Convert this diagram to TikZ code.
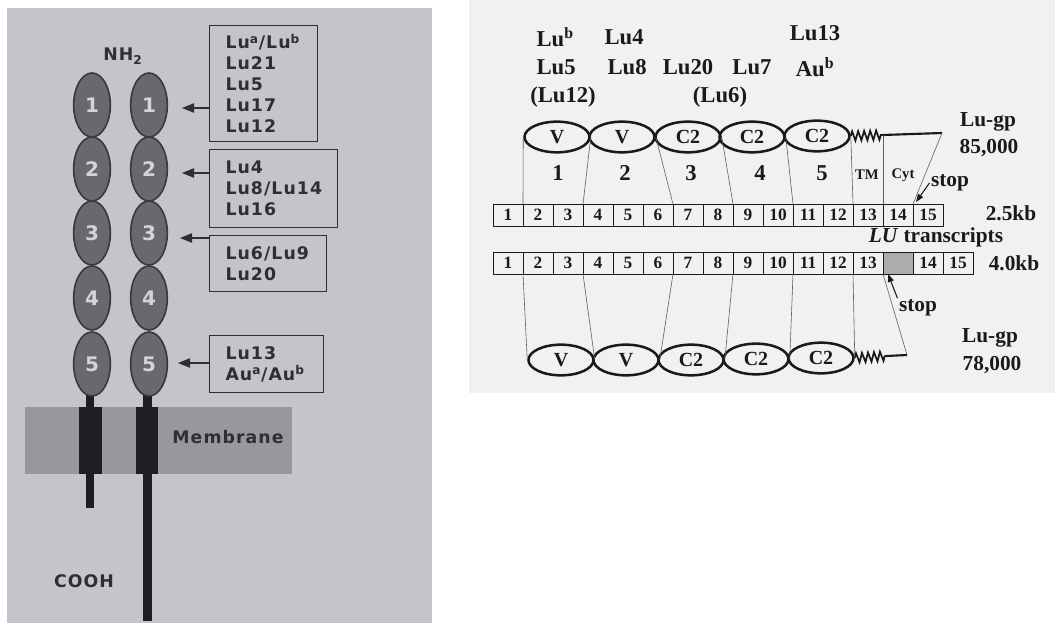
\documentclass[tikz,border=0pt]{standalone}
\usepackage{fontspec}
\setmainfont{Liberation Serif}
\newfontfamily\lfont{DejaVu Sans}[LetterSpace=6]
\usetikzlibrary{shapes.geometric, arrows.meta, positioning, calc, decorations.pathmorphing}
\definecolor{leftbg}{RGB}{197,196,202}
\definecolor{lobefill}{RGB}{106,104,110}
\definecolor{lobeline}{RGB}{58,56,62}
\definecolor{lobenum}{RGB}{212,212,216}
\definecolor{membr}{RGB}{152,151,157}
\definecolor{barcol}{RGB}{30,29,33}
\definecolor{ltext}{RGB}{48,46,52}
\definecolor{rightbg}{RGB}{241,241,243}
\definecolor{rtext}{RGB}{28,24,28}
\definecolor{connline}{RGB}{95,95,100}
\definecolor{stopfill}{RGB}{172,172,172}

\begin{document}
\begin{tikzpicture}[x=0.75pt, y=-0.75pt,
  lobe/.style={draw=lobeline, fill=lobefill, ellipse, line width=1.2pt, minimum width=27.5pt, minimum height=48pt, inner sep=0pt, text=lobenum, font=\lfont\bfseries\fontsize{15}{15}\selectfont},
  lbox/.style={draw=ltext, line width=0.8pt, anchor=north west, align=left, inner xsep=12pt, text=ltext, font=\lfont\bfseries\fontsize{13}{15.75}\selectfont},
  ltxt/.style={text=ltext, font=\lfont\bfseries\fontsize{13}{13}\selectfont},
  pointer/.style={-{Triangle[length=9pt,width=7pt]}, line width=0.8pt, color=ltext},
  igdom/.style={draw=rtext, ellipse, line width=1.9pt, minimum width=48.75pt, minimum height=23pt, inner sep=0pt, text=rtext, font=\bfseries\fontsize{15}{15}\selectfont},
  toplbl/.style={text=rtext, inner sep=1pt, font=\bfseries\fontsize{17}{17}\selectfont},
  sidelbl/.style={text=rtext, inner sep=1pt, font=\bfseries\fontsize{16}{16}\selectfont},
  smalllbl/.style={text=rtext, inner sep=1pt, font=\bfseries\fontsize{11}{11}\selectfont},
  exon/.style={draw=rtext, line width=0.6pt, minimum width=22.5pt, minimum height=16.5pt, inner sep=0pt, outer sep=0pt, text=rtext, font=\bfseries\fontsize{13}{13}\selectfont},
  conn/.style={draw=connline, line width=0.45pt},
  coil/.style={draw=rtext, line width=1.3pt, decorate, decoration={zigzag, segment length=4.5pt, amplitude=3.5pt}},
  tail/.style={draw=rtext, line width=1.6pt},
  sarrow/.style={-{Triangle[length=6pt,width=4.5pt]}, line width=0.8pt, color=rtext}
]
  \useasboundingbox (0,0) rectangle (1055,623);

  % Left panel: Lu glycoproteins in the membrane
  \fill[leftbg] (7,8) rectangle (432,623);
  \fill[membr] (25,407) rectangle (292,474);
  \fill[barcol] (86,390) rectangle (94,508);
  \fill[barcol] (143,390) rectangle (152,621);
  \fill[barcol] (79,407) rectangle (102,474);
  \fill[barcol] (136,407) rectangle (158,474);

  \foreach \n/\y in {1/105,2/169,3/233,4/298,5/364} {
    \node[lobe] (la\n) at (92,\y) {\n};
    \node[lobe] (lb\n) at (149,\y) {\n};
  }

  \node[ltxt] (nh2) at (123,56) {NH\textsubscript{2}};
  \node[ltxt] (mem) at (228,437) {Membrane};
  \node[ltxt] (cooh) at (84,581) {COOH};

  % Antigen boxes
  \node[lbox, minimum width=81pt, minimum height=87pt, text width=57pt] (box1) at (209,25)
    {Lu\textsuperscript{a}/Lu\textsuperscript{b}\\Lu21\\Lu5\\Lu17\\Lu12};
  \node[lbox, minimum width=96pt, minimum height=58.5pt, text width=72pt] (box2) at (209,149)
    {Lu4\\Lu8/Lu14\\Lu16};
  \node[lbox, minimum width=87.75pt, minimum height=42pt, text width=63.75pt] (box3) at (209,235)
    {Lu6/Lu9\\Lu20};
  \node[lbox, minimum width=85.5pt, minimum height=42.75pt, text width=61.5pt] (box4) at (209,335)
    {Lu13\\Au\textsuperscript{a}/Au\textsuperscript{b}};

  \coordinate (p1) at (182,108);
  \coordinate (p2) at (182,173);
  \coordinate (p3) at (180,238);
  \coordinate (p4) at (178,363);
  \draw[pointer] (p1 -| box1.west) -- (p1);
  \draw[pointer] (p2 -| box2.west) -- (p2);
  \draw[pointer] (p3 -| box3.west) -- (p3);
  \draw[pointer] (p4 -| box4.west) -- (p4);

  % Right panel: LU transcripts
  \fill[rightbg] (469,0) rectangle (1055,393);

  \node[toplbl, anchor=west] (lub) at (535,37) {Lu\textsuperscript{b}};
  \node[toplbl, anchor=west] (lu5) at (535,67) {Lu5};
  \node[toplbl] (lu12) at (563,97) {(Lu12)};
  \node[toplbl, anchor=west] (lu4) at (603,37) {Lu4};
  \node[toplbl, anchor=west] (lu8) at (606,67) {Lu8};
  \node[toplbl] (lu20) at (688,67) {Lu20};
  \node[toplbl] (lu6) at (720,97) {(Lu6)};
  \node[toplbl] (lu7) at (752,67) {Lu7};
  \node[toplbl] (lu13) at (815,33) {Lu13};
  \node[toplbl] (aub) at (815,67) {Au\textsuperscript{b}};

  % 85,000 form
  \node[igdom] (t1) at (557,137) {V};
  \node[igdom] (t2) at (622,137) {V};
  \node[igdom] (t3) at (688,137) {C2};
  \node[igdom] (t4) at (752,137) {C2};
  \node[igdom] (t5) at (817,136) {C2};
  \coordinate (tm) at (883,135);
  \coordinate (cyt) at (942,133);
  \draw[coil] (t5.east) -- (tm);
  \draw[tail] (tm) -- (cyt);

  \node[toplbl] (n1) at (558,173) {1};
  \node[toplbl] (n2) at (625,173) {2};
  \node[toplbl] (n3) at (691,173) {3};
  \node[toplbl] (n4) at (760,173) {4};
  \node[toplbl] (n5) at (822,173) {5};
  \node[smalllbl] (tmlbl) at (867,175) {TM};
  \node[smalllbl] (cytlbl) at (903,175) {Cyt};
  \node[sidelbl] (gp1) at (988,122) {Lu-gp};
  \node[sidelbl] (kd1) at (989,148) {85,000};

  % Exons, 2.5kb
  \foreach \i in {1,...,15}
    \node[exon] (r\i) at ({478+30*\i},215) {\raisebox{-2.5pt}{\i}};
  % Exons, 4.0kb
  \foreach \i in {1,...,13}
    \node[exon] (s\i) at ({478+30*\i},263) {\raisebox{-2.5pt}{\i}};
  \node[exon, fill=stopfill] (sg) at (898,263) {};
  \node[exon] (s14) at (928,263) {\raisebox{-2.5pt}{14}};
  \node[exon] (s15) at (958,263) {\raisebox{-2.5pt}{15}};

  \node[sidelbl] (kb25) at (1011,213) {2.5kb};
  \node[sidelbl] (transc) at (936,237) {\textit{LU} transcripts};
  \node[sidelbl] (kb40) at (1014,263) {4.0kb};

  \node[sidelbl] (stop1) at (950,183) {stop};
  \draw[sarrow] (stop1.west) -- ($(r15.north west)+(3,-2)$);
  \node[sidelbl] (stop2) at (918,308) {stop};
  \draw[sarrow] (stop2.north west) -- ($(sg.south west)+(5,0)$);

  % 78,000 form
  \node[igdom] (b1) at (561,360) {V};
  \node[igdom] (b2) at (626,360) {V};
  \node[igdom] (b3) at (691,360) {C2};
  \node[igdom] (b4) at (756,359) {C2};
  \node[igdom] (b5) at (821,358) {C2};
  \coordinate (tm2) at (887,356);
  \coordinate (lend) at (907,355);
  \draw[coil] (b5.east) -- (tm2);
  \draw[tail] (tm2) -- (lend);
  \node[sidelbl] (gp2) at (990,338) {Lu-gp};
  \node[sidelbl] (kd2) at (992,365) {78,000};

  % Domain to exon lines
  \draw[conn] (t1.west) -- (r1.north east);
  \draw[conn] (t1.east) -- (r3.north east);
  \draw[conn] (t2.east) -- (r6.north east);
  \draw[conn] (t3.east) -- (r8.north east);
  \draw[conn] (t4.east) -- (r10.north east);
  \draw[conn] (t5.east) -- (r12.north east);
  \draw[conn] (tm) -- (r13.north east);
  \draw[conn] (cyt) -- (r14.north east);
  \draw[conn] (s1.south east) -- (b1.west);
  \draw[conn] (s3.south east) -- (b1.east);
  \draw[conn] (s6.south east) -- (b2.east);
  \draw[conn] (s8.south east) -- (b3.east);
  \draw[conn] (s10.south east) -- (b4.east);
  \draw[conn] (s12.south east) -- (b5.east);
  \draw[conn] (s13.south east) -- (lend);
\end{tikzpicture}
\end{document}
